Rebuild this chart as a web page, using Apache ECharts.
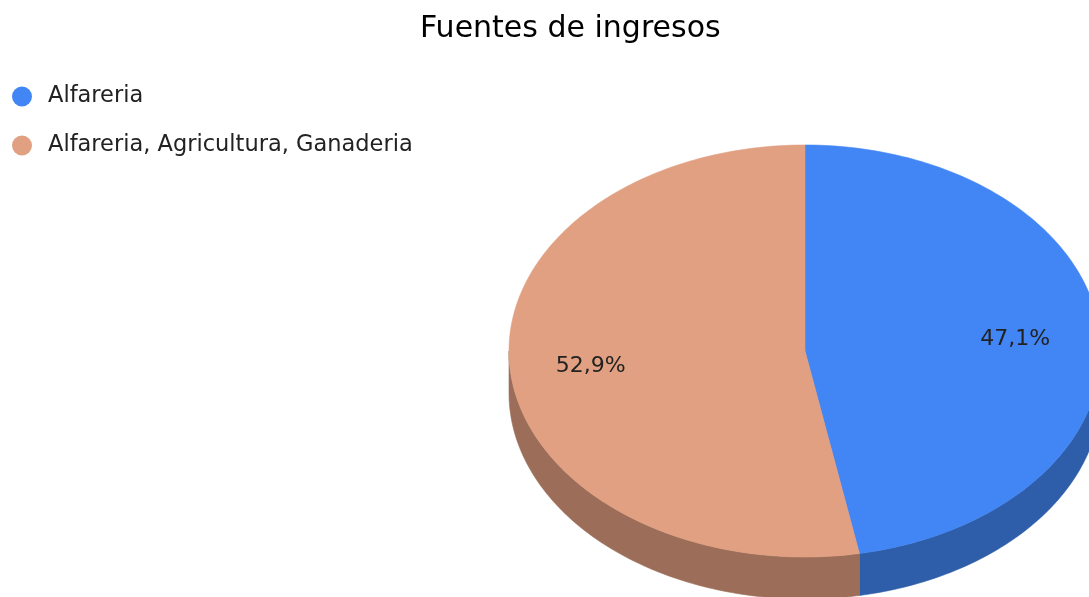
<!DOCTYPE html>
<html>
<head>
<meta charset="utf-8">
<script src="https://cdn.jsdelivr.net/npm/echarts@6/dist/echarts.min.js"></script>
<style>
  html, body { margin: 0; padding: 0; background: #fff; }
  #main { width: 1089px; height: 597px; }
</style>
</head>
<body>
<div id="main"></div>
<script>
// datos
const categorias = ['Alfareria', 'Alfareria, Agricultura, Ganaderia'];
const valores = [8, 9];
const coloresTapa = ['#4285F4', '#E0A081'];
const coloresLado = ['#2E5EAA', '#9C6E59'];

const total = valores.reduce((a, b) => a + b, 0);
const FUENTE = '"DejaVu Sans", sans-serif';

// geometria del pastel 3d (en pixeles)
const CX = 805, CY = 351, RX = 296, RY = 206, PROF = 42;

function punto(ang, dy) {
  // ang en grados, desde arriba en sentido horario
  const r = ang * Math.PI / 180;
  return [CX + RX * Math.sin(r), CY - RY * Math.cos(r) + (dy || 0)];
}

function arco(a0, a1, dy) {
  const pts = [];
  const n = Math.max(2, Math.ceil(Math.abs(a1 - a0) / 1));
  for (let i = 0; i <= n; i++) {
    pts.push(punto(a0 + (a1 - a0) * i / n, dy));
  }
  return pts;
}

function renderSlice(idx) {
  return function (params, api) {
    let antes = 0;
    for (let i = 0; i < idx; i++) antes += valores[i];
    const v = api.value(0);
    const a0 = antes / total * 360;
    const a1 = (antes + v) / total * 360;
    const hijos = [];

    // lado (solo la parte frontal, 90..270)
    const s0 = Math.max(a0, 90), s1 = Math.min(a1, 270);
    if (s1 > s0) {
      const arriba = arco(s0, s1, 0);
      const abajo = arco(s1, s0, PROF);
      hijos.push({
        type: 'polygon',
        shape: { points: arriba.concat(abajo) },
        style: { fill: coloresLado[idx], stroke: coloresLado[idx], lineWidth: 0.6 }
      });
    }

    // tapa
    const pts = [[CX, CY]].concat(arco(a0, a1, 0));
    hijos.push({
      type: 'polygon',
      shape: { points: pts },
      style: { fill: coloresTapa[idx], stroke: coloresTapa[idx], lineWidth: 0.6 }
    });

    // etiqueta
    const m = (a0 + a1) / 2 * Math.PI / 180;
    hijos.push({
      type: 'text',
      x: CX + 0.72 * RX * Math.sin(m) - 2,
      y: CY - 0.72 * RY * Math.cos(m) + 2,
      style: {
        text: (v / total * 100).toFixed(1).replace('.', ',') + '%',
        fill: '#222',
        font: '22px ' + FUENTE,
        align: 'center',
        verticalAlign: 'middle'
      }
    });

    return { type: 'group', children: hijos };
  };
}

const chart = echarts.init(document.getElementById('main'));

chart.setOption({
  animation: false,
  title: {
    text: 'Fuentes de ingresos',
    left: 420,
    top: 14,
    padding: 0,
    textStyle: {
      fontFamily: FUENTE,
      fontSize: 30,
      fontWeight: 'normal',
      color: '#000'
    }
  },
  legend: {
    orient: 'vertical',
    left: 12,
    top: 85,
    padding: 0,
    icon: 'circle',
    itemWidth: 20,
    itemHeight: 20,
    itemGap: 26,
    data: categorias,
    textStyle: {
      fontFamily: FUENTE,
      fontSize: 22.5,
      color: '#222',
      padding: [0, 0, 0, 11]
    }
  },
  series: categorias.map((nombre, i) => ({
    type: 'custom',
    name: nombre,
    coordinateSystem: 'none',
    itemStyle: { color: coloresTapa[i] },
    renderItem: renderSlice(i),
    data: [[valores[i]]]
  }))
});
</script>
</body>
</html>
